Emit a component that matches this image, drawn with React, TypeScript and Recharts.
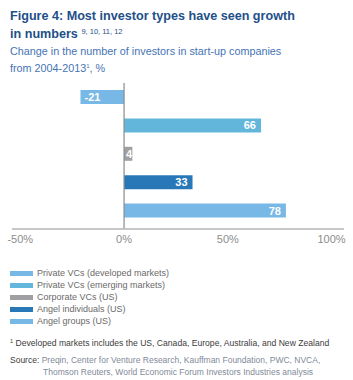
import { Bar, BarChart, Cell, LabelList, ReferenceLine, XAxis, YAxis } from 'recharts';

// ─────────────────────────────────────────────────────────────────────
// Datos del gráfico
// ─────────────────────────────────────────────────────────────────────
const categorias = [
  'Private VCs (developed markets)',
  'Private VCs (emerging markets)',
  'Corporate VCs (US)',
  'Angel individuals (US)',
  'Angel groups (US)',
];
const valores = [-21, 66, 4, 33, 78];
const colores = ['#78b8e6', '#62b6dc', '#a0a0a2', '#2878b8', '#78b8e6'];
const ticksX = [-50, 0, 50, 100];

const FONT = '"Liberation Sans", Arial, Helvetica, sans-serif';

const datos = categorias.map((nombre, i) => ({ nombre, valor: valores[i], fill: colores[i] }));

function fmtPct(n: number): string {
  return `${n}%`;
}

// etiqueta blanca dentro de la barra
function EtiquetaBarra(props: any) {
  const { x, y, width, height, value } = props;
  const izq = Math.min(x, x + width);
  const der = Math.max(x, x + width);
  const ancho = der - izq;
  let tx = der - 5;
  let anchor: 'start' | 'end' = 'end';
  if (value < 0) {
    tx = izq + 4;
    anchor = 'start';
  } else if (ancho < 20) {
    tx = izq + 2;
    anchor = 'start';
  }
  return (
    <text
      x={tx}
      y={y + height / 2}
      dy="0.36em"
      textAnchor={anchor}
      fill="#ffffff"
      fontSize={11}
      fontWeight="bold"
      fontFamily={FONT}
    >
      {value}
    </text>
  );
}

export default function App() {
  return (
    <div
      style={{
        position: 'absolute',
        left: 0,
        top: 0,
        width: 353,
        height: 380,
        background: '#fff',
        fontFamily: FONT,
      }}
    >
      <div
        style={{
          position: 'absolute',
          left: 10,
          top: 8,
          fontSize: 12.6,
          fontWeight: 'bold',
          color: '#234f88',
          lineHeight: '16px',
          whiteSpace: 'nowrap',
        }}
      >
        Figure 4: Most investor types have seen growth
        <br />
        in numbers{' '}
        <span style={{ fontSize: 7.5, fontWeight: 'normal', verticalAlign: 4 }}>9, 10, 11, 12</span>
      </div>
      <div
        style={{
          position: 'absolute',
          left: 10,
          top: 44,
          fontSize: 10.8,
          color: '#4673b4',
          lineHeight: '15px',
          whiteSpace: 'nowrap',
        }}
      >
        Change in the number of investors in start-up companies
        <br />
        from 2004-2013<span style={{ fontSize: 6, verticalAlign: 4 }}>1</span>, %
      </div>

      <div style={{ position: 'absolute', left: 0, top: 0 }}>
        <BarChart
          width={353}
          height={262}
          data={datos}
          layout="vertical"
          margin={{ top: 83, right: 9, left: 12, bottom: 0 }}
        >
          <XAxis
            type="number"
            domain={[-54, 106]}
            ticks={ticksX}
            tickFormatter={fmtPct}
            allowDataOverflow
            tickLine={false}
            tickSize={4}
            tickMargin={2}
            axisLine={{ stroke: '#b4b4b4', strokeWidth: 1.5 }}
            tick={{ fill: '#8c8c8c', fontSize: 11, fontFamily: FONT }}
            height={33}
          />
          <YAxis type="category" dataKey="nombre" hide padding={{ top: 0, bottom: 4 }} />
          <ReferenceLine x={0} stroke="#8a8a8a" strokeWidth={1.2} />
          <Bar dataKey="valor" barSize={14} isAnimationActive={false}>
            {datos.map((d) => (
              <Cell key={d.nombre} fill={d.fill} />
            ))}
            <LabelList dataKey="valor" content={EtiquetaBarra} />
          </Bar>
        </BarChart>
      </div>

      <div style={{ position: 'absolute', left: 10, top: 267 }}>
        {categorias.map((c, i) => (
          <div
            key={c}
            style={{ display: 'flex', alignItems: 'center', height: 12, fontSize: 9, color: '#6a6a6a' }}
          >
            <span
              style={{ display: 'inline-block', width: 23, height: 5, background: colores[i], marginRight: 4 }}
            />
            {c}
          </div>
        ))}
      </div>

      <div
        style={{
          position: 'absolute',
          left: 10,
          top: 338,
          fontSize: 8.6,
          color: '#3c3c3c',
          whiteSpace: 'nowrap',
        }}
      >
        <span style={{ fontSize: 5.5, verticalAlign: 3 }}>1</span> Developed markets includes the US, Canada,
        Europe, Australia, and New Zealand
      </div>
      <div
        style={{
          position: 'absolute',
          left: 10,
          top: 354,
          fontSize: 8.5,
          color: '#7f8a99',
          lineHeight: '12px',
          whiteSpace: 'nowrap',
        }}
      >
        <span style={{ color: '#3c3c3c' }}>Source:</span> Preqin, Center for Venture Research, Kauffman
        Foundation, PWC, NVCA,
        <br />
        <span style={{ paddingLeft: 33 }}>
          Thomson Reuters, World Economic Forum Investors Industries analysis
        </span>
      </div>
    </div>
  );
}
